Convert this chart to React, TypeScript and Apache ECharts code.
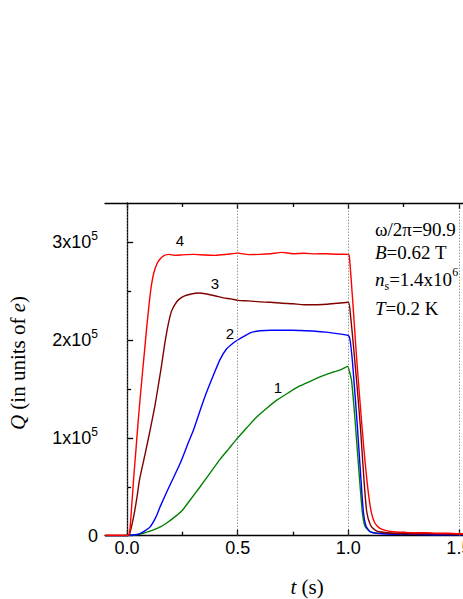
import React, { useEffect, useRef } from 'react';
import * as echarts from 'echarts';

// Q in units of 1e5 e, t in seconds
const t1 = [-0.1, 0.0, 0.01, 0.05, 0.074, 0.1, 0.119, 0.15, 0.179, 0.22, 0.25, 0.285, 0.33, 0.375, 0.42, 0.46, 0.5, 0.54, 0.58, 0.63, 0.68, 0.736, 0.78, 0.83, 0.88, 0.93, 0.97, 0.997, 1.005, 1.015, 1.03, 1.045, 1.063, 1.075, 1.1, 1.15, 1.2, 1.3, 1.4, 1.5, 1.6];
const q1 = [0, 0, 0.003, 0.012, 0.025, 0.045, 0.06, 0.09, 0.13, 0.2, 0.26, 0.365, 0.5, 0.64, 0.78, 0.89, 1.0, 1.1, 1.2, 1.3, 1.39, 1.47, 1.53, 1.58, 1.63, 1.67, 1.7, 1.73, 1.68, 1.58, 1.2, 0.75, 0.25, 0.1, 0.04, 0.025, 0.025, 0.025, 0.02, 0.02, 0.02];

const t2 = [-0.1, 0.0, 0.01, 0.05, 0.08, 0.104, 0.13, 0.15, 0.19, 0.24, 0.28, 0.3, 0.33, 0.36, 0.39, 0.42, 0.45, 0.48, 0.5, 0.53, 0.56, 0.6, 0.65, 0.7, 0.75, 0.8, 0.85, 0.9, 0.95, 1.0, 1.008, 1.018, 1.025, 1.04, 1.055, 1.068, 1.08, 1.1, 1.15, 1.2, 1.3, 1.4, 1.5, 1.6];
const q2 = [0, 0, 0.005, 0.015, 0.05, 0.09, 0.19, 0.3, 0.5, 0.74, 0.97, 1.08, 1.28, 1.47, 1.64, 1.8, 1.91, 1.97, 2.0, 2.04, 2.075, 2.095, 2.1, 2.1, 2.1, 2.095, 2.09, 2.08, 2.065, 2.045, 2.0, 1.8, 1.6, 1.15, 0.65, 0.25, 0.1, 0.04, 0.02, 0.015, 0.015, 0.01, 0.01, 0.01];

const t3 = [-0.1, 0.0, 0.01, 0.03, 0.045, 0.056, 0.08, 0.104, 0.125, 0.14, 0.155, 0.17, 0.185, 0.2, 0.215, 0.232, 0.26, 0.29, 0.322, 0.36, 0.4, 0.435, 0.47, 0.5, 0.55, 0.6, 0.65, 0.7, 0.75, 0.8, 0.85, 0.9, 0.95, 1.0, 1.01, 1.025, 1.04, 1.055, 1.07, 1.083, 1.1, 1.12, 1.14, 1.2, 1.3, 1.4, 1.5, 1.6];
const q3 = [0, 0, 0.01, 0.2, 0.4, 0.57, 0.82, 1.08, 1.32, 1.52, 1.73, 1.96, 2.15, 2.29, 2.36, 2.41, 2.45, 2.47, 2.48, 2.47, 2.45, 2.43, 2.42, 2.405, 2.4, 2.39, 2.385, 2.375, 2.37, 2.36, 2.36, 2.365, 2.375, 2.385, 2.25, 1.9, 1.52, 1.1, 0.6, 0.25, 0.11, 0.06, 0.04, 0.025, 0.02, 0.02, 0.015, 0.015];

const t4 = [-0.1, 0.0, 0.01, 0.02, 0.03, 0.04, 0.05, 0.06, 0.07, 0.08, 0.09, 0.1, 0.11, 0.12, 0.135, 0.15, 0.165, 0.187, 0.22, 0.25, 0.3, 0.35, 0.4, 0.45, 0.5, 0.55, 0.6, 0.65, 0.7, 0.75, 0.8, 0.85, 0.9, 0.95, 1.0, 1.005, 1.02, 1.035, 1.05, 1.07, 1.09, 1.105, 1.12, 1.14, 1.16, 1.2, 1.25, 1.3, 1.35, 1.4, 1.45, 1.5, 1.55, 1.6];
const q4 = [0.005, 0.005, 0.01, 0.28, 0.6, 0.88, 1.17, 1.43, 1.68, 1.92, 2.16, 2.38, 2.56, 2.68, 2.78, 2.83, 2.86, 2.875, 2.865, 2.87, 2.875, 2.868, 2.865, 2.875, 2.888, 2.872, 2.875, 2.882, 2.895, 2.882, 2.886, 2.88, 2.882, 2.876, 2.875, 2.85, 2.4, 1.9, 1.45, 0.9, 0.45, 0.23, 0.13, 0.08, 0.06, 0.04, 0.035, 0.03, 0.03, 0.025, 0.025, 0.02, 0.02, 0.02];

const curveNames = ['1', '2', '3', '4'];
const curveColors = ['#008000', '#0000ff', '#800000', '#ff0000'];
const xMajor = [0, 0.5, 1.0, 1.5];
const xMinor = [0.25, 0.75, 1.25];
const yMajor = [0, 1, 2, 3];
const yMinor = [0.5, 1.5, 2.5];

const SANS = 'Liberation Sans, Arial, sans-serif';
const SERIF = 'Liberation Serif, Times New Roman, serif';

function zip(t: number[], q: number[]) {
  return t.map((v, i) => [v, q[i]]);
}

export default function App() {
  const ref = useRef<HTMLDivElement>(null);
  useEffect(() => {
    if (!ref.current) return;
    const chart = echarts.init(ref.current, undefined, { renderer: 'svg' });
    const grid = { left: 105, top: 203, right: -18, bottom: 63.3, outerBoundsMode: 'none', containLabel: false };
    const xBase = { type: 'value' as const, min: -0.1, max: 1.6, splitLine: { show: false } };
    const yBase = { type: 'value' as const, min: 0, max: 3.4, splitLine: { show: false } };
    const lineSt = { color: '#000', width: 1.3 };
    const seriesData = [zip(t1, q1), zip(t2, q2), zip(t3, q3), zip(t4, q4)];
    const sup = { fontSize: 12, fontFamily: SERIF, fill: '#000', lineHeight: 12, verticalAlign: 'top' };
    const sub = { fontSize: 12, fontFamily: SERIF, fill: '#000', lineHeight: 12, verticalAlign: 'bottom' };
    const it = { fontSize: 19, fontFamily: SERIF, fontStyle: 'italic', fill: '#000', lineHeight: 26 };
    const rm = { fontSize: 19, fontFamily: SERIF, fill: '#000', lineHeight: 26 };
    const option: any = {
      animation: false,
      grid: [grid, grid],
      xAxis: [
        {
          ...xBase, gridIndex: 0, position: 'bottom',
          axisLine: { lineStyle: lineSt },
          axisTick: { inside: true, length: 6, customValues: xMajor, lineStyle: lineSt },
          axisLabel: { customValues: xMajor, formatter: (v: number) => v.toFixed(1), fontSize: 18, color: '#000', fontFamily: SANS, margin: 3 },
        },
        {
          ...xBase, gridIndex: 0, position: 'top',
          axisLine: { lineStyle: lineSt },
          axisTick: { inside: true, length: 6, customValues: xMajor, lineStyle: lineSt },
          axisLabel: { show: false },
        },
        {
          ...xBase, gridIndex: 1, position: 'bottom',
          axisLine: { show: false },
          axisTick: { inside: true, length: 4, customValues: xMinor, lineStyle: lineSt },
          axisLabel: { show: false },
        },
        {
          ...xBase, gridIndex: 1, position: 'top',
          axisLine: { show: false },
          axisTick: { inside: true, length: 4, customValues: xMinor, lineStyle: lineSt },
          axisLabel: { show: false },
        },
      ],
      yAxis: [
        {
          ...yBase, gridIndex: 0, position: 'left',
          axisLine: { show: true, lineStyle: lineSt },
          axisTick: { show: true, inside: true, length: 6, customValues: yMajor, lineStyle: lineSt },
          axisLabel: {
            customValues: yMajor,
            margin: 7,
            formatter: (v: number) => (v === 0 ? '{n|0}' : `{n|${v}x10}{s|5}`),
            rich: {
              n: { fontSize: 18, fontFamily: SANS, color: '#000', lineHeight: 24 },
              s: { fontSize: 12, fontFamily: SANS, color: '#000', lineHeight: 12, verticalAlign: 'top' },
            },
          },
        },
        {
          ...yBase, gridIndex: 1, position: 'left',
          axisLine: { show: false },
          axisTick: { show: true, inside: true, length: 4, customValues: yMinor, lineStyle: lineSt },
          axisLabel: { show: false },
        },
      ],
      series: seriesData.map((d, i) => ({
        type: 'line',
        name: curveNames[i],
        xAxisIndex: 0,
        yAxisIndex: 0,
        data: d,
        showSymbol: false,
        symbol: 'none',
        smooth: 0.2,
        lineStyle: { color: curveColors[i], width: 1.4 },
        itemStyle: { color: curveColors[i] },
        markLine: i === 0 ? {
          silent: true,
          symbol: ['none', 'none'],
          label: { show: false },
          lineStyle: { type: [1, 2], color: '#666', width: 1 },
          data: xMajor.map((x) => ({ xAxis: x })),
        } : undefined,
      })),
      graphic: [
        { type: 'text', x: 180, y: 240, style: { text: '4', fontSize: 15, fontFamily: SANS, fill: '#000', align: 'center', verticalAlign: 'middle' } },
        { type: 'text', x: 215, y: 283, style: { text: '3', fontSize: 15, fontFamily: SANS, fill: '#000', align: 'center', verticalAlign: 'middle' } },
        { type: 'text', x: 230, y: 333, style: { text: '2', fontSize: 15, fontFamily: SANS, fill: '#000', align: 'center', verticalAlign: 'middle' } },
        { type: 'text', x: 278, y: 387, style: { text: '1', fontSize: 15, fontFamily: SANS, fill: '#000', align: 'center', verticalAlign: 'middle' } },
        {
          type: 'text', x: 18, y: 363, rotation: Math.PI / 2,
          style: {
            text: '{i|Q}{r| (in units of }{i|e}{r|)}', align: 'center', verticalAlign: 'middle',
            rich: {
              i: { fontSize: 21, fontFamily: SERIF, fontStyle: 'italic', fill: '#000' },
              r: { fontSize: 21, fontFamily: SERIF, fill: '#000' },
            },
          },
        },
        {
          type: 'text', x: 307, y: 587,
          style: {
            text: '{i|t}{r| (s)}', align: 'center', verticalAlign: 'middle',
            rich: {
              i: { fontSize: 21, fontFamily: SERIF, fontStyle: 'italic', fill: '#000' },
              r: { fontSize: 21, fontFamily: SERIF, fill: '#000' },
            },
          },
        },
        {
          type: 'text', x: 375, y: 229,
          style: { text: 'ω/2π=90.9', fontSize: 19, fontFamily: SERIF, fill: '#000', align: 'left', verticalAlign: 'middle' },
        },
        {
          type: 'text', x: 375, y: 252,
          style: { text: '{i|B}{r|=0.62 T}', align: 'left', verticalAlign: 'middle', rich: { i: it, r: rm } },
        },
        {
          type: 'text', x: 375, y: 279,
          style: { text: '{i|n}{sub|s}{r|=1.4x10}{sup|6}', align: 'left', verticalAlign: 'middle', rich: { i: it, r: rm, sub, sup } },
        },
        {
          type: 'text', x: 375, y: 308,
          style: { text: '{i|T}{r|=0.2 K}', align: 'left', verticalAlign: 'middle', rich: { i: it, r: rm } },
        },
      ],
    };
    chart.setOption(option);
    return () => chart.dispose();
  }, []);
  return <div ref={ref} style={{ position: 'absolute', left: 0, top: 0, width: 463, height: 599 }} />;
}
